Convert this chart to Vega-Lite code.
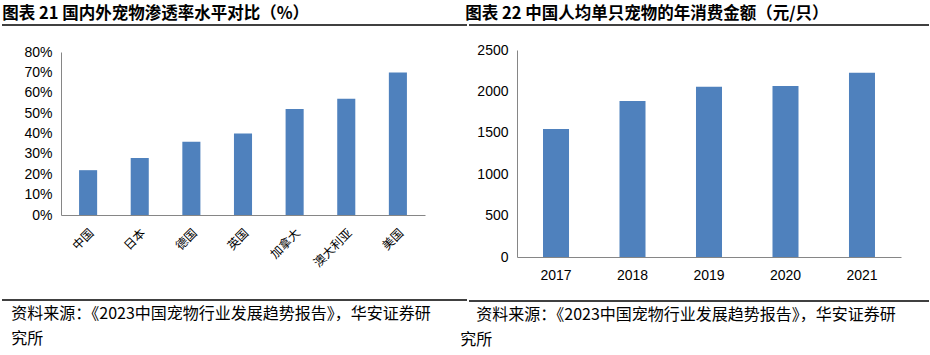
{
  "$schema": "https://vega.github.io/schema/vega-lite/v6.json",
  "padding": {"top": 5, "left": 0, "right": 0, "bottom": 0},
  "background": "white",
  "config": {
    "view": {"stroke": "transparent"},
    "font": "Noto Sans CJK SC",
    "axis": {"grid": false, "ticks": false, "domainColor": "#868686", "domainWidth": 1}
  },
  "datasets": {
    "line": [{"start": 0, "end": 1, "pos": 1}]
  },
  "spacing": -11,
  "hconcat": [
    {
      "columns": 1,
      "spacing": 0,
      "align": "none",
      "bounds": "full",
      "concat": [
        {
          "width": 465,
          "height": 18,
          "title": {"text": "图表 21 国内外宠物渗透率水平对比（%）", "anchor": "start", "fontSize": 16.5, "fontWeight": "bold", "color": "black", "offset": 2, "dx": 1},
          "data": {"name": "line"},
          "mark": {"type": "rule", "color": "black", "strokeWidth": 1.5},
          "encoding": {
            "x": {"field": "start", "type": "quantitative", "scale": {"domain": [0, 1], "nice": false}, "axis": null},
            "x2": {"field": "end"},
            "y": {"field": "pos", "type": "quantitative", "scale": {"domain": [0, 1], "nice": false}, "axis": null}
          }
        },
        {
          "width": 465,
          "height": 163,
          "data": {"values": [
            {"country": "中国", "rate": 0.22},
            {"country": "日本", "rate": 0.28},
            {"country": "德国", "rate": 0.36},
            {"country": "英国", "rate": 0.40},
            {"country": "加拿大", "rate": 0.52},
            {"country": "澳大利亚", "rate": 0.57},
            {"country": "美国", "rate": 0.70}
          ]},
          "mark": {"type": "bar", "color": "#4F81BD"},
          "encoding": {
            "x": {"field": "country", "type": "nominal", "sort": null,
                  "scale": {"range": [59, 423], "paddingInner": 0.65, "paddingOuter": 0.35},
                  "axis": {"title": null, "labelAngle": -45, "labelFontSize": 12, "labelColor": "black", "labelPadding": 12, "minExtent": 82, "maxExtent": 82}},
            "y": {"field": "rate", "type": "quantitative",
                  "scale": {"domain": [0, 0.8], "nice": false},
                  "axis": {"title": null, "offset": -59, "format": ".0%", "values": [0, 0.1, 0.2, 0.3, 0.4, 0.5, 0.6, 0.7, 0.8], "labelFont": "Liberation Sans", "labelFontSize": 14, "labelColor": "black", "labelPadding": 9}}
          }
        },
        {
          "width": 465,
          "height": 1,
          "title": {"text": ["资料来源：《2023中国宠物行业发展趋势报告》，华安证券研", "究所"], "orient": "bottom", "anchor": "start", "fontSize": 16, "fontWeight": "normal", "color": "black", "lineHeight": 25, "offset": 5, "dx": 10},
          "data": {"name": "line"},
          "mark": {"type": "rule", "color": "black", "strokeWidth": 1.5},
          "encoding": {
            "x": {"field": "start", "type": "quantitative", "scale": {"domain": [0, 1], "nice": false}, "axis": null},
            "x2": {"field": "end"},
            "y": {"field": "pos", "type": "quantitative", "scale": {"domain": [0, 1], "nice": false}, "axis": null}
          }
        }
      ]
    },
    {
      "columns": 1,
      "spacing": 0,
      "align": "none",
      "bounds": "full",
      "concat": [
        {
          "width": 460,
          "height": 16,
          "title": {"text": "图表 22  中国人均单只宠物的年消费金额（元/只）", "anchor": "start", "fontSize": 16.5, "fontWeight": "bold", "color": "black", "offset": 2, "dx": -3},
          "data": {"name": "line"},
          "mark": {"type": "rule", "color": "black", "strokeWidth": 1.5},
          "encoding": {
            "x": {"field": "start", "type": "quantitative", "scale": {"domain": [0, 1], "nice": false}, "axis": null},
            "x2": {"field": "end"},
            "y": {"field": "pos", "type": "quantitative", "scale": {"domain": [0, 1], "nice": false}, "axis": null}
          }
        },
        {
          "width": 460,
          "height": 207,
          "data": {"values": [
            {"year": "2017", "spend": 1545},
            {"year": "2018", "spend": 1885},
            {"year": "2019", "spend": 2055},
            {"year": "2020", "spend": 2065},
            {"year": "2021", "spend": 2225}
          ]},
          "mark": {"type": "bar", "color": "#4F81BD"},
          "encoding": {
            "x": {"field": "year", "type": "nominal", "sort": null,
                  "scale": {"range": [48, 432], "paddingInner": 0.66, "paddingOuter": 0.34},
                  "axis": {"title": null, "labelAngle": 0, "labelFont": "Liberation Sans", "labelFontSize": 14, "labelColor": "black", "labelPadding": 11, "minExtent": 41, "maxExtent": 41}},
            "y": {"field": "spend", "type": "quantitative",
                  "scale": {"domain": [0, 2500], "nice": false},
                  "axis": {"title": null, "offset": -48, "format": "d", "values": [0, 500, 1000, 1500, 2000, 2500], "labelFont": "Liberation Sans", "labelFontSize": 14, "labelColor": "black", "labelPadding": 9}}
          }
        },
        {
          "width": 460,
          "height": 1,
          "title": {"text": ["\u200b\u3000资料来源：《2023中国宠物行业发展趋势报告》，华安证券研", "究所"], "orient": "bottom", "anchor": "start", "fontSize": 16, "fontWeight": "normal", "color": "black", "lineHeight": 25, "offset": 5, "dx": -8},
          "data": {"name": "line"},
          "mark": {"type": "rule", "color": "black", "strokeWidth": 1.5},
          "encoding": {
            "x": {"field": "start", "type": "quantitative", "scale": {"domain": [0, 1], "nice": false}, "axis": null},
            "x2": {"field": "end"},
            "y": {"field": "pos", "type": "quantitative", "scale": {"domain": [0, 1], "nice": false}, "axis": null}
          }
        }
      ]
    }
  ]
}
